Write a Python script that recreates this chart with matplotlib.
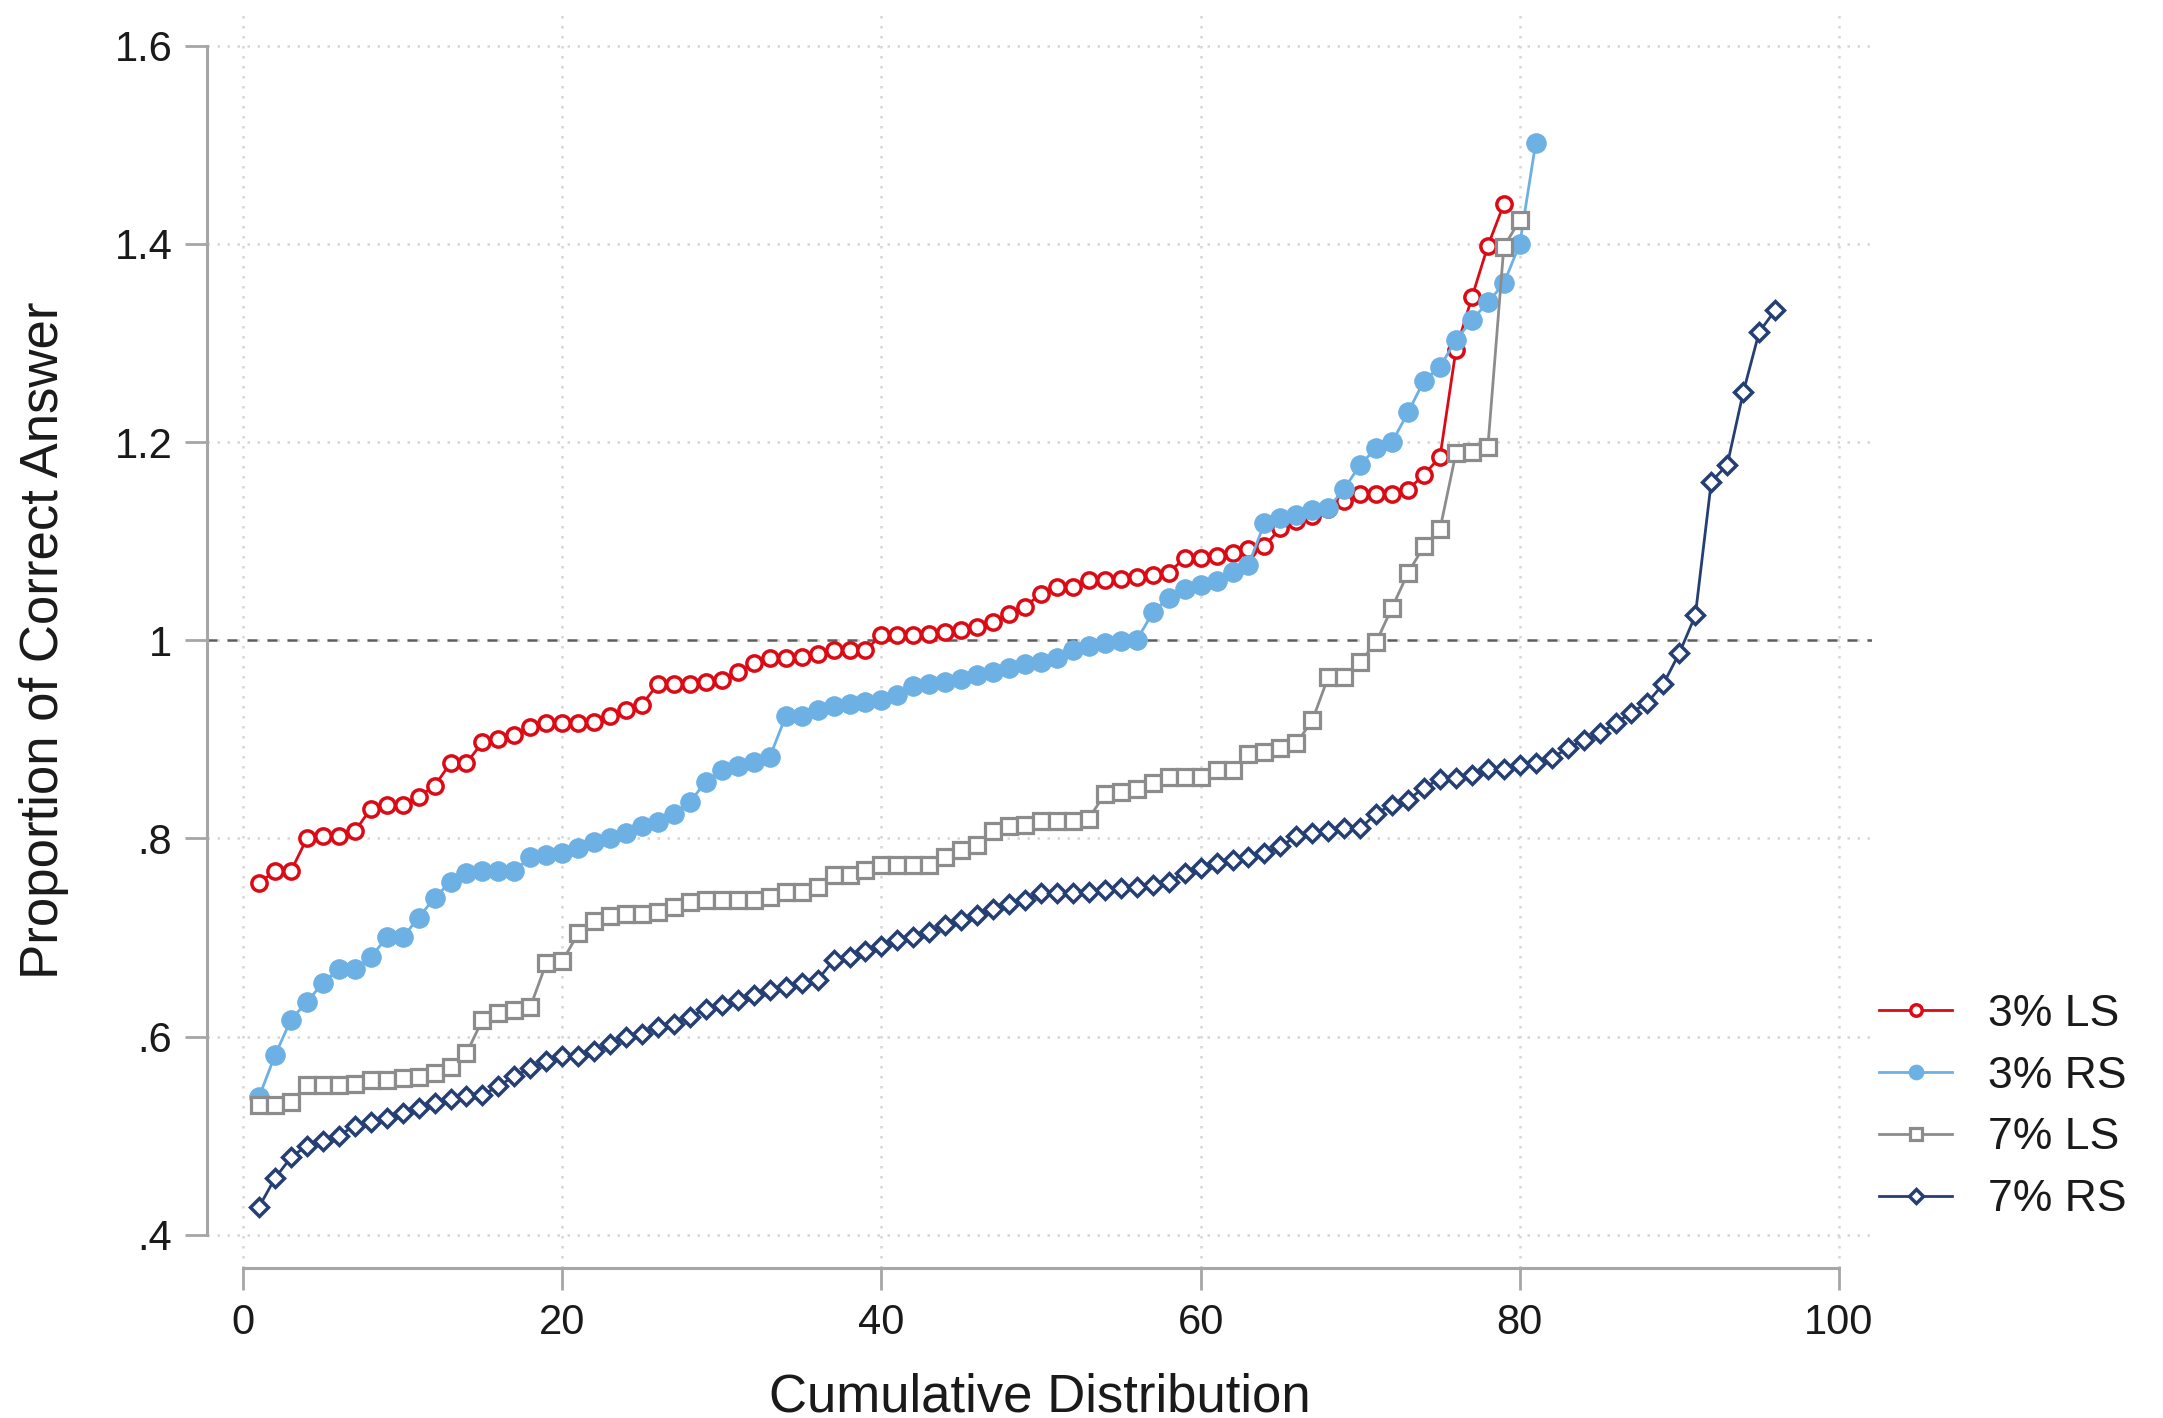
import matplotlib
matplotlib.use("Agg")
import matplotlib.pyplot as plt
import numpy as np

plt.rcParams["font.family"] = ["Liberation Sans", "DejaVu Sans"]

# Значения (отсортированы по рангу)
ls3 = [0.755, 0.767, 0.767, 0.800, 0.802, 0.802, 0.807, 0.830, 0.834, 0.834,
       0.842, 0.853, 0.876, 0.876, 0.897, 0.900, 0.904, 0.912, 0.916, 0.916,
       0.916, 0.917, 0.924, 0.930, 0.935, 0.956, 0.956, 0.956, 0.958, 0.960,
       0.968, 0.977, 0.982, 0.982, 0.983, 0.986, 0.990, 0.990, 0.990, 1.005,
       1.005, 1.005, 1.006, 1.008, 1.010, 1.013, 1.018, 1.026, 1.034, 1.047,
       1.054, 1.054, 1.061, 1.061, 1.062, 1.064, 1.066, 1.068, 1.083, 1.083,
       1.085, 1.088, 1.092, 1.095, 1.113, 1.120, 1.125, 1.132, 1.140, 1.148,
       1.148, 1.148, 1.152, 1.167, 1.185, 1.293, 1.346, 1.398, 1.440]

rs3 = [0.539, 0.581, 0.617, 0.635, 0.654, 0.668, 0.668, 0.680, 0.700, 0.700,
       0.720, 0.740, 0.756, 0.765, 0.767, 0.767, 0.767, 0.781, 0.783, 0.785,
       0.790, 0.796, 0.800, 0.805, 0.812, 0.817, 0.825, 0.837, 0.857, 0.869,
       0.873, 0.877, 0.882, 0.923, 0.924, 0.930, 0.934, 0.936, 0.938, 0.940,
       0.945, 0.954, 0.956, 0.958, 0.961, 0.965, 0.968, 0.972, 0.976, 0.978,
       0.982, 0.990, 0.994, 0.997, 0.999, 1.000, 1.028, 1.043, 1.052, 1.056,
       1.060, 1.069, 1.076, 1.118, 1.123, 1.126, 1.131, 1.133, 1.153, 1.177,
       1.194, 1.200, 1.230, 1.262, 1.276, 1.303, 1.323, 1.341, 1.360, 1.400,
       1.502]

ls7 = [0.531, 0.531, 0.534, 0.551, 0.551, 0.551, 0.552, 0.556, 0.556, 0.558,
       0.559, 0.563, 0.569, 0.583, 0.617, 0.624, 0.627, 0.630, 0.674, 0.676,
       0.704, 0.717, 0.722, 0.724, 0.724, 0.726, 0.731, 0.736, 0.738, 0.738,
       0.738, 0.738, 0.741, 0.746, 0.746, 0.751, 0.763, 0.763, 0.768, 0.773,
       0.773, 0.773, 0.773, 0.781, 0.788, 0.793, 0.807, 0.812, 0.813, 0.818,
       0.818, 0.818, 0.820, 0.845, 0.847, 0.850, 0.856, 0.862, 0.862, 0.862,
       0.869, 0.869, 0.885, 0.887, 0.891, 0.896, 0.919, 0.963, 0.963, 0.978,
       0.998, 1.033, 1.068, 1.095, 1.112, 1.189, 1.190, 1.195, 1.397, 1.424]

rs7 = [0.428, 0.457, 0.478, 0.490, 0.495, 0.500, 0.510, 0.514, 0.518, 0.523,
       0.528, 0.533, 0.537, 0.540, 0.541, 0.550, 0.560, 0.568, 0.575, 0.580,
       0.580, 0.585, 0.592, 0.600, 0.603, 0.610, 0.613, 0.620, 0.628, 0.632,
       0.637, 0.642, 0.647, 0.650, 0.654, 0.657, 0.677, 0.680, 0.686, 0.691,
       0.697, 0.700, 0.706, 0.713, 0.718, 0.723, 0.729, 0.734, 0.738, 0.745,
       0.745, 0.745, 0.746, 0.748, 0.750, 0.751, 0.753, 0.756, 0.765, 0.770,
       0.775, 0.778, 0.781, 0.785, 0.792, 0.802, 0.805, 0.807, 0.810, 0.810,
       0.825, 0.834, 0.839, 0.851, 0.860, 0.861, 0.864, 0.870, 0.870, 0.874,
       0.876, 0.881, 0.891, 0.899, 0.906, 0.916, 0.927, 0.937, 0.956, 0.987,
       1.025, 1.160, 1.177, 1.250, 1.311, 1.333]

labels = ["3% LS", "3% RS", "7% LS", "7% RS"]
x_ticks = [0, 20, 40, 60, 80, 100]
y_ticks = [0.4, 0.6, 0.8, 1.0, 1.2, 1.4, 1.6]
y_tick_labels = [".4", ".6", ".8", "1", "1.2", "1.4", "1.6"]

# Стили серий
styles = [
    dict(color="#DC0A14", marker="o", ms=11, mfc="white", mew=2.5),
    dict(color="#6CB0E4", marker="o", ms=14, mfc="#6CB0E4", mew=0.8),
    dict(color="#8C8C8C", marker="s", ms=11, mfc="white", mew=2.3),
    dict(color="#253F73", marker="D", ms=9.5, mfc="white", mew=2.5),
]

AXIS_GRAY = "#A6A6A6"
TEXT = "#1A1A1A"

W, H = 2163, 1418
fig = plt.figure(figsize=(W / 100, H / 100), dpi=100)
ax = fig.add_axes([207 / W, 150 / H, 1665 / W, 1256 / H])

handles = []
for name, vals, st in zip(labels, [ls3, rs3, ls7, rs7], styles):
    xs = np.arange(1, len(vals) + 1)
    (h,) = ax.plot(xs, vals, color=st["color"], lw=2.0, marker=st["marker"],
                   ms=st["ms"], mfc=st["mfc"], mec=st["color"], mew=st["mew"],
                   zorder=3, label=name)
    handles.append(h)

ax.axhline(1.0, color="#5E5E5E", lw=1.8, dashes=(4, 4), zorder=2)

ax.set_xlim(-2.26, 102.07)
ax.set_ylim(0.3664, 1.634)
ax.set_xticks(x_ticks)
ax.set_yticks(y_ticks)
ax.set_yticklabels(y_tick_labels)

ax.grid(True, color="#D6D6D6", linestyle=(0, (1, 3)), linewidth=1.8, zorder=1)
ax.set_axisbelow(True)

for side in ("top", "right"):
    ax.spines[side].set_visible(False)
for side in ("left", "bottom"):
    ax.spines[side].set_color(AXIS_GRAY)
    ax.spines[side].set_linewidth(2.2)
ax.spines["left"].set_bounds(0.4, 1.6)
ax.spines["bottom"].set_bounds(0, 100)

ax.tick_params(axis="both", direction="out", length=16, width=2,
               color=AXIS_GRAY, labelsize=30, labelcolor=TEXT, pad=9)

ax.set_xlabel("Cumulative Distribution", fontsize=38, color=TEXT)
ax.set_ylabel("Proportion of Correct Answer", fontsize=38, color=TEXT)
ax.xaxis.set_label_coords(0.5, -0.083)
ax.yaxis.set_label_coords(-0.083, 0.5)

fig.legend(handles, labels, loc="center left", bbox_to_anchor=(0.8687, 0.2193),
           frameon=False, fontsize=32, handlelength=1.65, handletextpad=0.8,
           labelspacing=0.47, borderpad=0, borderaxespad=0, markerscale=0.75,
           labelcolor=TEXT)

fig.savefig("out.png", dpi=100)
